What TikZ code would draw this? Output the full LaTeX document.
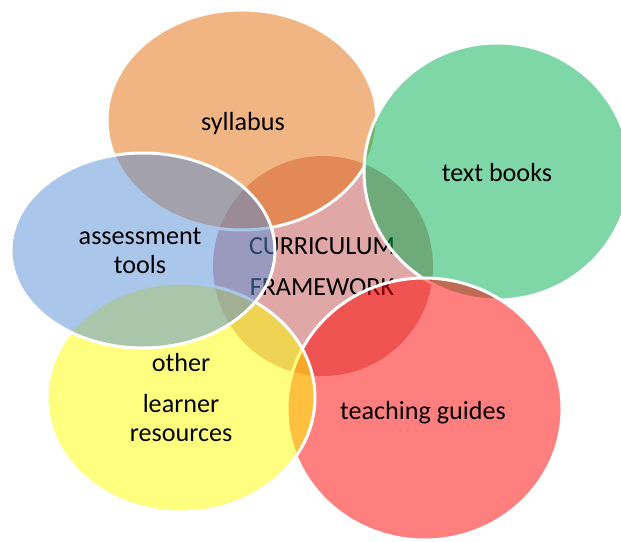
\documentclass[tikz,border=0pt]{standalone}
\usepackage{fontspec}
\setmainfont{Carlito}
\usepackage{tikz}

\definecolor{frameworkred}{RGB}{192,80,77}
\definecolor{syllabusorange}{RGB}{228,108,10}
\definecolor{booksgreen}{RGB}{0,176,80}
\definecolor{guidesred}{RGB}{255,0,0}
\definecolor{resourcesyellow}{RGB}{255,255,0}
\definecolor{toolsblue}{RGB}{85,142,213}

\begin{document}
\begin{tikzpicture}[x=0.75pt,y=0.75pt,yscale=-1,xscale=1,
  venn/.style={draw=white, line width=2.25pt, fill opacity=0.5},
  venntext/.style={inner sep=0.75pt, align=center, text opacity=1,
    font=\fontsize{19.6}{21.75}\selectfont}]
\useasboundingbox (0,0) rectangle (621,542);
\clip (0,0) rectangle (621,542);

%Shape: Circle [id:framework]
\fill [fill=frameworkred, fill opacity=0.5] (323,266) circle (110);
% Text Node
\draw (322,266.5) node [venntext] (framework) {CURRICULUM\\[9pt]FRAMEWORK};

%Shape: Ellipse [id:syllabus]
\draw [venn, fill=syllabusorange] (242,120) ellipse (135 and 110);
% Text Node
\draw (243,124) node [venntext] (syllabus) {syllabus};

%Shape: Ellipse [id:books]
\draw [venn, fill=booksgreen] (497,171.5) ellipse (133 and 128.5);
% Text Node
\draw (497,173) node [venntext] (books) {text books};

%Shape: Ellipse [id:guides]
\draw [venn, fill=guidesred] (424.5,409) ellipse (137.5 and 131);
% Text Node
\draw (423,413) node [venntext] (guides) {teaching guides};

%Shape: Ellipse [id:resources]
\draw [venn, fill=resourcesyellow] (181,397.5) ellipse (134 and 114.5);
% Text Node
\draw (181,397.5) node [venntext] (resources) {other\\[9pt]learner\\resources};

%Shape: Ellipse [id:tools]
\draw [venn, fill=toolsblue] (143,250.5) ellipse (132 and 97.5);
% Text Node
\draw (140,251) node [venntext] (tools) {assessment\\tools};

\end{tikzpicture}
\end{document}
